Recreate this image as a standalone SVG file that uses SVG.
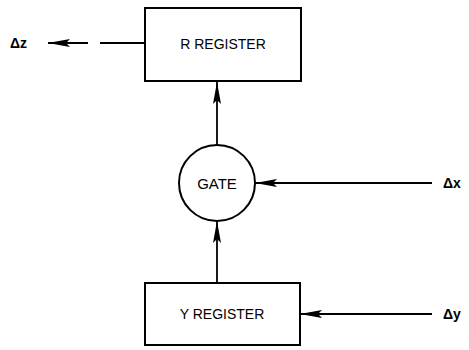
<svg xmlns="http://www.w3.org/2000/svg" width="469" height="350" viewBox="0 0 469 350">
<defs>
<marker id="ah" viewBox="0 0 22 10" refX="22" refY="5" markerWidth="22" markerHeight="10" markerUnits="userSpaceOnUse" orient="auto" overflow="visible">
<path d="M0,1 L22,5 L0,9 L4,5 Z" fill="#000"/>
</marker>
<style>
.box{fill:#fff;stroke:#000;stroke-width:2}
.ln{fill:none;stroke:#000;stroke-width:1.8}
.t{font-family:"Liberation Sans",Arial,sans-serif;font-size:14px;fill:#000;text-anchor:middle}
.d{font-family:"Liberation Sans",Arial,sans-serif;font-size:14px;font-weight:bold;fill:#000}
</style>
</defs>
<rect width="469" height="350" fill="#fff"/>
<g id="connectors">
<line class="ln" x1="145" y1="43" x2="100" y2="43"/>
<line class="ln" x1="88" y1="43" x2="48" y2="43" marker-end="url(#ah)"/>
<line class="ln" x1="217" y1="145" x2="217" y2="82" marker-end="url(#ah)"/>
<line class="ln" x1="217" y1="283" x2="217" y2="221" marker-end="url(#ah)"/>
<line class="ln" x1="432" y1="183" x2="255" y2="183" marker-end="url(#ah)"/>
<line class="ln" x1="432" y1="314" x2="300" y2="314" marker-end="url(#ah)"/>
</g>
<g id="r-register">
<rect class="box" x="145" y="8" width="156" height="73"/>
<text class="t" x="223" y="49">R REGISTER</text>
</g>
<g id="gate">
<circle class="box" cx="217" cy="183" r="38"/>
<text class="t" x="217" y="189" style="font-size:15px">GATE</text>
</g>
<g id="y-register">
<rect class="box" x="145" y="283" width="155" height="62"/>
<text class="t" x="222" y="319">Y REGISTER</text>
</g>
<g id="labels">
<text class="d" x="10" y="48">Δz</text>
<text class="d" x="443" y="188">Δx</text>
<text class="d" x="443" y="319">Δy</text>
</g>
</svg>
